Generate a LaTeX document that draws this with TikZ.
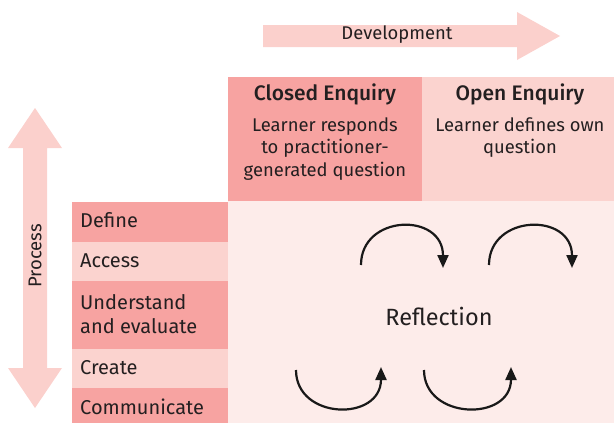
\documentclass[tikz,border=0pt]{standalone}
\usepackage{fontspec}
\setmainfont{Fira Sans}
\newfontfamily\medfont{Fira Sans Medium}
\usetikzlibrary{arrows.meta}
\definecolor{pdark}{HTML}{F7A3A1}
\definecolor{plight}{HTML}{FBD3CF}
\definecolor{pbg}{HTML}{FDECEA}
\definecolor{parrow}{HTML}{FBD0CC}
\definecolor{txt}{HTML}{231F20}
\begin{document}
\begin{tikzpicture}[x=1pt,y=-1pt,
  box/.style={rectangle,inner sep=0pt,anchor=north west,draw=none},
  lbl/.style={anchor=west,inner sep=0pt,text=txt,font=\fontsize{20}{24}\selectfont,align=left},
  body/.style={inner sep=0pt,text=txt,font=\fontsize{18.4}{22.5}\selectfont,align=center},
  ttl/.style={inner sep=0pt,text=txt,font=\fontsize{21}{22}\medfont},
  cyc/.style={line width=2.2pt,draw=black!90,-{Triangle[width=11pt,length=13pt]}}]
\useasboundingbox (0,0) rectangle (614,423);
% development arrow
\fill[parrow] (263,25) -- (517,25) -- (517,12) -- (560,36) -- (517,60) -- (517,47) -- (263,47) -- cycle;
\node[inner sep=0pt,text=txt,font=\fontsize{18.4}{20}\selectfont] (dev) at (397,35) {Development};
% process arrow
\fill[parrow] (35,108) -- (62,148) -- (47,148) -- (47,368) -- (62,368) -- (35,408) -- (8,368) -- (23,368) -- (23,148) -- (8,148) -- cycle;
\node[inner sep=0pt,text=txt,rotate=90,font=\fontsize{18.5}{20}\selectfont] (proc) at (35,256) {Process};
% top boxes
\node[box,fill=pdark,minimum width=194pt,minimum height=124pt] (closed) at (228,77) {};
\node[box,fill=plight,minimum width=192pt,minimum height=124pt] (open) at (422,77) {};
\node[box,fill=pbg,minimum width=386pt,minimum height=222pt] (refl) at (228,201) {};
\node[ttl] (closedt) at (325,94) {Closed Enquiry};
\node[body,anchor=north] (closedb) at (325,117) {Learner responds\\to practitioner-\\generated question};
\node[ttl] (opent) at (520,94) {Open Enquiry};
\node[body,anchor=north] (openb) at (520,117) {Learner defines own\\question};
% left boxes
\node[box,fill=pdark,minimum width=156pt,minimum height=40pt] (define) at (72,202) {};
\node[box,fill=plight,minimum width=156pt,minimum height=39pt] (access) at (72,242) {};
\node[box,fill=pdark,minimum width=156pt,minimum height=68pt] (under) at (72,281) {};
\node[box,fill=plight,minimum width=156pt,minimum height=39pt] (create) at (72,349) {};
\node[box,fill=pdark,minimum width=156pt,minimum height=35pt] (comm) at (72,388) {};
\node[lbl] (definet) at (80,220) {Define};
\node[lbl] (accesst) at (80,261) {Access};
\node[lbl] (undert) at (80,314) {Understand\\and evaluate};
\node[lbl] (createt) at (80,368) {Create};
\node[lbl] (commt) at (80,407) {Communicate};
% reflection
\node[inner sep=0pt,text=txt,font=\fontsize{23.5}{26}\selectfont] (rtext) at (439,316) {Reflection};
\coordinate (a1) at (361,265); \coordinate (b1) at (443,268);
\coordinate (a2) at (489,265); \coordinate (b2) at (572,268);
\coordinate (a3) at (296,370); \coordinate (b3) at (381,367);
\coordinate (a4) at (424,370); \coordinate (b4) at (511,367);
\draw[cyc] (a1) .. controls (361,214) and (443,212) .. (b1);
\draw[cyc] (a2) .. controls (489,214) and (572,212) .. (b2);
\draw[cyc] (a3) .. controls (296,420) and (381,422) .. (b3);
\draw[cyc] (a4) .. controls (424,420) and (511,422) .. (b4);
\end{tikzpicture}
\end{document}
